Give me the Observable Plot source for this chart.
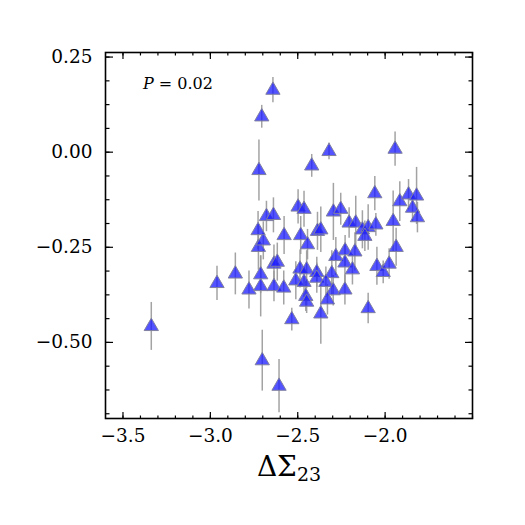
<!DOCTYPE html>
<html>
<head>
<meta charset="utf-8">
<script src="https://cdn.jsdelivr.net/npm/d3@7"></script>
<script src="https://cdn.jsdelivr.net/npm/@observablehq/plot@0.6"></script>
<style>
  body { margin: 0; background: #fff; }
  #chart svg text { font-family: "DejaVu Serif", "Liberation Serif", serif; }
</style>
</head>
<body>
<div id="chart"></div>
<script>
// ΔΣ23 of each object
const deltaSigma = [
  -3.338, -2.962, -2.857, -2.779, -2.712, -2.712, -2.725, -2.697, -2.727, -2.722,
  -2.706, -2.642, -2.679, -2.639, -2.636, -2.617, -2.636, -2.580, -2.578, -2.703,
  -2.607, -2.534, -2.498, -2.464, -2.420, -2.321, -2.483, -2.444, -2.387, -2.368,
  -2.487, -2.449, -2.391, -2.305, -2.511, -2.464, -2.391, -2.339, -2.297, -2.230,
  -2.454, -2.449, -2.330, -2.368, -2.097, -2.296, -2.254, -2.206, -2.168, -2.130,
  -2.097, -2.053, -2.059, -1.954, -1.916, -1.866, -1.820, -1.843, -1.815, -1.943,
  -2.116, -2.282, -2.229, -2.173, -2.230, -2.187, -2.047, -2.011, -1.977, -1.937
];
// measured offset of each object
const offset = [
  -0.458, -0.345, -0.320, -0.362, -0.353, -0.322, -0.250, -0.233, -0.206, -0.048,
   0.093,  0.163, -0.169, -0.166, -0.294, -0.289, -0.353, -0.357, -0.219, -0.548,
  -0.615, -0.440, -0.144, -0.150, -0.036,  0.002, -0.219, -0.243, -0.208, -0.204,
  -0.307, -0.309, -0.316, -0.319, -0.338, -0.342, -0.331, -0.342, -0.364, -0.362,
  -0.379, -0.394, -0.388, -0.425, -0.411, -0.157, -0.150, -0.186, -0.186, -0.204,
  -0.198, -0.191, -0.109, -0.182, -0.130, -0.112, -0.115, -0.147, -0.172,  0.008,
  -0.221, -0.274, -0.259, -0.262, -0.291, -0.309, -0.300, -0.316, -0.294, -0.250
];
// 1σ uncertainty of the offset
const offsetErr = [
  0.063, 0.045, 0.055, 0.050, 0.080, 0.050, 0.060, 0.050, 0.050, 0.080,
  0.030, 0.033, 0.040, 0.046, 0.050, 0.050, 0.040, 0.045, 0.050, 0.080,
  0.070, 0.030, 0.045, 0.047, 0.030, 0.022, 0.050, 0.040, 0.050, 0.060,
  0.050, 0.050, 0.040, 0.060, 0.050, 0.040, 0.040, 0.040, 0.040, 0.040,
  0.040, 0.030, 0.040, 0.080, 0.040, 0.075, 0.042, 0.040, 0.070, 0.050,
  0.060, 0.030, 0.045, 0.080, 0.052, 0.040, 0.075, 0.035, 0.040, 0.045,
  0.040, 0.050, 0.040, 0.050, 0.050, 0.040, 0.050, 0.030, 0.040, 0.050
];

const xMajor = [-3.5, -3.0, -2.5, -2.0];
const xMinor = d3.range(-35, -14).map(i => i / 10);
const yMajor = [-0.5, -0.25, 0, 0.25];
const yMinor = d3.range(-11, 5).map(i => i * 0.0625);
const pLabel = "0.02";

const points = deltaSigma.map((x, i) => ({x, y: offset[i], e: offsetErr[i]}));
const minus = s => s.replace("-", "\u2212");
const serif = "DejaVu Serif, Liberation Serif, serif";

// inward ticks on all four sides of the frame
const tickAxes = (ticks, size) => [
  Plot.axisX(ticks, {anchor: "top", frameAnchor: "bottom", tickSize: size, fill: "none", tickFormat: () => "", label: null, strokeWidth: 1.2}),
  Plot.axisX(ticks, {anchor: "bottom", frameAnchor: "top", tickSize: size, fill: "none", tickFormat: () => "", label: null, strokeWidth: 1.2})
];
const tickAxesY = (ticks, size) => [
  Plot.axisY(ticks, {anchor: "right", frameAnchor: "left", tickSize: size, fill: "none", tickFormat: () => "", label: null, strokeWidth: 1.2}),
  Plot.axisY(ticks, {anchor: "left", frameAnchor: "right", tickSize: size, fill: "none", tickFormat: () => "", label: null, strokeWidth: 1.2})
];

const chart = Plot.plot({
  width: 525,
  height: 525,
  marginLeft: 105,
  marginRight: 53,
  marginTop: 52,
  marginBottom: 107,
  style: {fontFamily: serif, background: "#fff", color: "#000"},
  x: {domain: [-3.6, -1.5]},
  y: {domain: [-0.7, 0.262]},
  marks: [
    ...tickAxes(xMinor, 3.5),
    ...tickAxes(xMajor, 7),
    ...tickAxesY(yMinor, 3.5),
    ...tickAxesY(yMajor, 7),
    Plot.axisX(xMajor, {anchor: "bottom", tickSize: 0, tickPadding: 10, fontSize: 18.5, fontFamily: serif, label: null,
      tickFormat: d => minus(d.toFixed(1))}),
    Plot.axisY(yMajor, {anchor: "left", tickSize: 0, tickPadding: 13, fontSize: 18.5, fontFamily: serif, label: null,
      tickFormat: d => minus(d.toFixed(2))}),
    Plot.ruleX(points, {x: "x", y1: d => d.y - d.e, y2: d => d.y + d.e, stroke: "#999", strokeWidth: 1.5, strokeOpacity: 0.9}),
    Plot.dot(points, {x: "x", y: "y", symbol: "triangle", r: 5.3, fill: "#1a1aff", fillOpacity: 0.75, stroke: "#8080a0", strokeWidth: 1}),
    Plot.frame({stroke: "#000", strokeWidth: 1.6})
  ]
});

const svg = d3.select(chart);

// x-axis title with subscript
const xt = svg.append("text")
  .attr("x", 289).attr("y", 476)
  .attr("text-anchor", "middle")
  .attr("font-family", serif)
  .attr("font-size", 28)
  .attr("fill", "#000");
xt.append("tspan").text("ΔΣ");
xt.append("tspan").attr("font-size", 19).attr("dy", 5).text("23");

// significance annotation
const pt = svg.append("text")
  .attr("x", 143).attr("y", 89)
  .attr("text-anchor", "start")
  .attr("font-family", serif)
  .attr("font-size", 16)
  .attr("fill", "#000");
pt.append("tspan").attr("font-style", "italic").text("P");
pt.append("tspan").text(" = " + pLabel);

document.getElementById("chart").append(chart);
</script>
</body>
</html>
